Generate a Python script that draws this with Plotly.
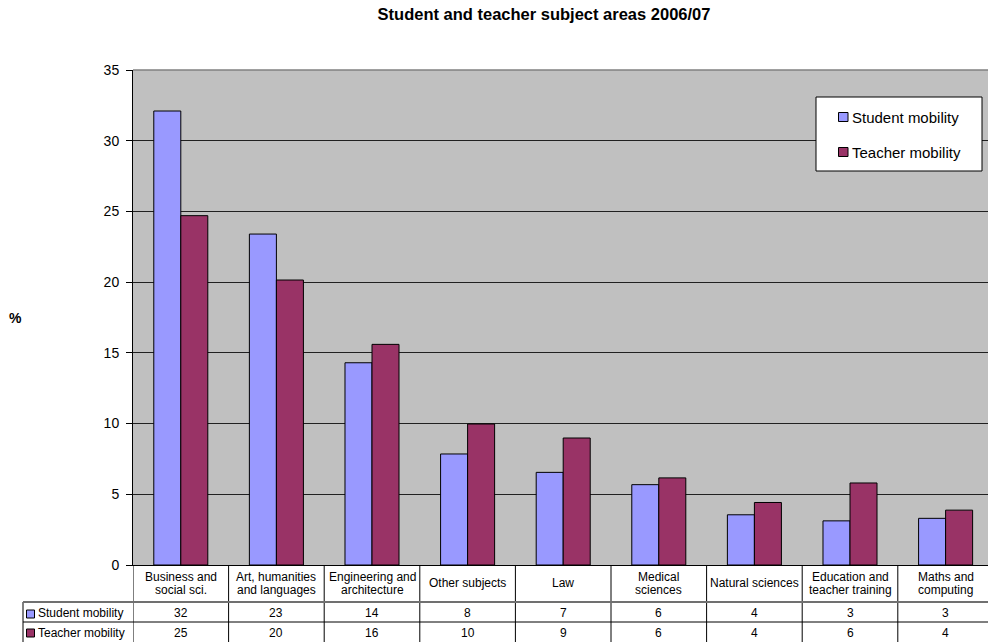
import plotly.graph_objects as go

categories = ["Business and\nsocial sci.", "Art, humanities\nand languages", "Engineering and\narchitecture",
              "Other subjects", "Law", "Medical\nsciences", "Natural sciences",
              "Education and\nteacher training", "Maths and\ncomputing"]
student = [32.1, 23.4, 14.3, 7.85, 6.55, 5.68, 3.55, 3.12, 3.3]
teacher = [24.7, 20.15, 15.6, 9.97, 8.98, 6.16, 4.42, 5.8, 3.88]
student_table = ["32", "23", "14", "8", "7", "6", "4", "3", "3"]
teacher_table = ["25", "20", "16", "10", "9", "6", "4", "6", "4"]
series_names = ["Student mobility", "Teacher mobility"]
colors = ["#9999FF", "#993366"]
y_ticks = [0, 5, 10, 15, 20, 25, 30, 35]

FONT = "Liberation Sans, Arial, sans-serif"
W, H = 988, 642
L, R, T, B = 133, 0, 70, 77
PW, PH = W - L - R, H - T - B
CAT_W = 95.6

def px_x(p):
    return (p - L) / PW

def px_y(p):
    return (H - B - p) / PH

cats = [c.replace("\n", " ") for c in categories]

fig = go.Figure()
for name, vals, col in [(series_names[0], student, colors[0]),
                        (series_names[1], teacher, colors[1])]:
    fig.add_trace(go.Bar(x=cats, y=vals, name=name, showlegend=False,
                         marker=dict(color=col, line=dict(color="black", width=1))))

shapes = []
shapes.append(dict(type="line", xref="paper", yref="paper", x0=0, x1=1, y0=1, y1=1,
                   line=dict(color="#808080", width=1.5), layer="above"))
for i in range(len(cats) + 1):
    shapes.append(dict(type="line", xref="x", yref="paper", x0=i - 0.5, x1=i - 0.5,
                       y0=0, y1=px_y(H + 2), line=dict(color="black", width=1)))
shapes.append(dict(type="line", xref="paper", yref="paper", x0=px_x(23), x1=px_x(23),
                   y0=px_y(602), y1=px_y(H + 2), line=dict(color="black", width=1)))
shapes.append(dict(type="line", xref="paper", yref="paper", x0=px_x(23), x1=1,
                   y0=px_y(602), y1=px_y(602), line=dict(color="#707070", width=2)))
shapes.append(dict(type="line", xref="paper", yref="paper", x0=px_x(23), x1=1,
                   y0=px_y(622), y1=px_y(622), line=dict(color="black", width=1)))
for k, yc in enumerate([614, 633]):
    shapes.append(dict(type="rect", xref="paper", yref="paper", x0=px_x(26.5), x1=px_x(34.5),
                       y0=px_y(yc - 4), y1=px_y(yc + 4), fillcolor=colors[k],
                       line=dict(color="black", width=1)))
# legend box and keys
shapes.append(dict(type="rect", xref="paper", yref="paper", x0=px_x(816), x1=px_x(982),
                   y0=px_y(97), y1=px_y(171), fillcolor="white",
                   line=dict(color="black", width=1), layer="above"))
for k, yc in enumerate([117, 152]):
    shapes.append(dict(type="rect", xref="paper", yref="paper", x0=px_x(838.5), x1=px_x(848),
                       y0=px_y(yc - 4.5), y1=px_y(yc + 4.5), fillcolor=colors[k],
                       line=dict(color="black", width=1), layer="above"))

tfont = dict(family=FONT, size=12, color="black")
annotations = []
for i, c in enumerate(categories):
    lines = c.split("\n")
    ys = [583] if len(lines) == 1 else [577, 590]
    for ln, yy in zip(lines, ys):
        annotations.append(dict(x=cats[i], xref="x", y=px_y(yy), yref="paper", text=ln,
                                showarrow=False, font=tfont, xanchor="center", yanchor="middle"))
    annotations.append(dict(x=cats[i], xref="x", y=px_y(613), yref="paper", text=student_table[i],
                            showarrow=False, font=tfont, xanchor="center", yanchor="middle"))
    annotations.append(dict(x=cats[i], xref="x", y=px_y(633), yref="paper", text=teacher_table[i],
                            showarrow=False, font=tfont, xanchor="center", yanchor="middle"))
for k, yc in enumerate([613, 633]):
    annotations.append(dict(x=px_x(36), xref="paper", y=px_y(yc), yref="paper", text=series_names[k],
                            showarrow=False, font=tfont, xanchor="left", yanchor="middle"))
for k, yc in enumerate([117.5, 152.5]):
    annotations.append(dict(x=px_x(850), xref="paper", y=px_y(yc), yref="paper", text=series_names[k],
                            showarrow=False, font=dict(family=FONT, size=15, color="black"),
                            xanchor="left", yanchor="middle"))
annotations.append(dict(x=px_x(15), xref="paper", y=px_y(318), yref="paper", text="<b>%</b>",
                        showarrow=False, font=dict(family=FONT, size=14, color="black"),
                        xanchor="center", yanchor="middle"))

fig.update_layout(
    width=W, height=H,
    margin=dict(l=L, r=R, t=T, b=B, pad=0),
    paper_bgcolor="white", plot_bgcolor="#C0C0C0",
    title=dict(text="<b>Student and teacher subject areas 2006/07</b>", x=544 / W, xanchor="center",
               y=1 - 14 / H, yanchor="middle", yref="container",
               font=dict(family=FONT, size=16.5, color="black")),
    barmode="group", bargap=0.435, bargroupgap=0,
    showlegend=False,
    xaxis=dict(range=[-0.5, -0.5 + PW / CAT_W], showticklabels=False, ticks="",
               showgrid=False, showline=True, linecolor="black", linewidth=1, zeroline=False),
    yaxis=dict(range=[0, 35], tickvals=y_ticks, ticks="outside", ticklen=6, tickcolor="black",
               tickfont=dict(family=FONT, size=14, color="black"), showgrid=True,
               gridcolor="#202020", gridwidth=1, showline=True, linecolor="black", linewidth=1,
               zeroline=False, ticklabelstandoff=4),
    shapes=shapes, annotations=annotations,
    font=dict(family=FONT, color="black"),
)

fig.write_html("out.html", config={"displayModeBar": False},
               post_script="document.body.style.margin='0';document.body.style.overflow='hidden';")
